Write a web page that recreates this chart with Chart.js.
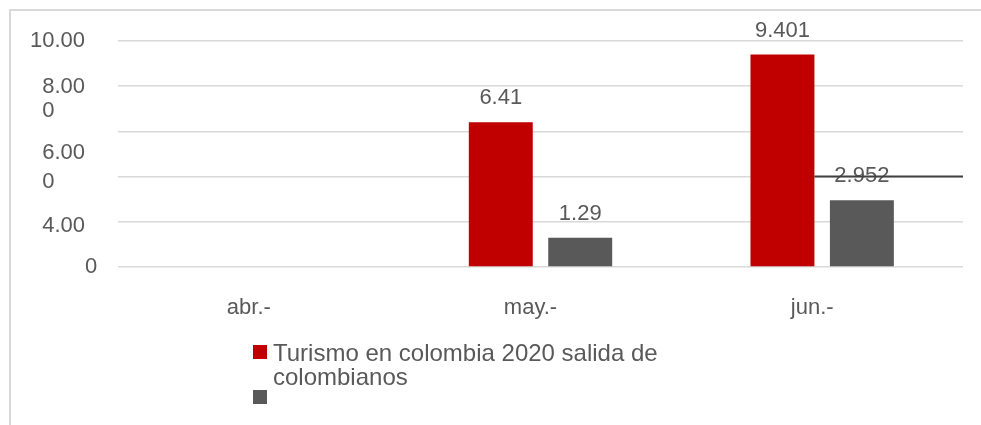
<!DOCTYPE html>
<html>
<head>
<meta charset="utf-8">
<script src="https://cdn.jsdelivr.net/npm/chart.js@4.4.1/dist/chart.umd.min.js"></script>
<style>
  html, body { margin: 0; padding: 0; background: #fff; }
  body { width: 981px; height: 425px; position: relative; overflow: hidden; font-family: "Liberation Sans", Arial, sans-serif; }
  #frame { position: absolute; left: 9px; top: 9px; right: -10px; bottom: -10px; border-top: 2px solid #d9d9d9; border-left: 2px solid #d9d9d9; }
  #wrap { position: absolute; left: 0; top: 0; width: 981px; height: 425px; }
  #legend { position: absolute; left: 253px; top: 341px; color: #595959; font-size: 24px; line-height: 24px; }
  .item { display: flex; align-items: flex-start; }
  .box { width: 14px; height: 14px; margin-top: 4px; margin-right: 6px; flex: none; }
  .item.empty .box { margin-top: 1px; }
  .txt { max-width: 400px; }
</style>
</head>
<body>
<div id="frame"></div>
<div id="wrap"><canvas id="chart"></canvas></div>
<div id="legend"></div>
<script>
// datos
const months = ['abr.-', 'may.-', 'jun.-'];
const seriesNames = ['Turismo en colombia 2020 salida de colombianos', ''];
const redValues = [null, 6.41, 9.401];
const grayValues = [null, 1.29, 2.952];
const redLabels = ['', '6.41', '9.401'];
const grayLabels = ['', '1.29', '2.952'];
const colors = ['#c00000', '#595959'];

// etiquetas del eje y tal como aparecen (valor donde cae cada texto)
const yTickValues = [10, 7.97, 6.91, 5.04, 3.76, 1.83, 0];
const yTickText = ['10.00', '  8.00', '  0', '  6.00', '  0', '  4.00', '         0'];
const strayLineValue = 4;

const textColor = '#595959';
Chart.defaults.font.family = '"Liberation Sans", Arial, sans-serif';
Chart.defaults.color = textColor;

const barLabels = {
  id: 'barLabels',
  afterDatasetsDraw(chart) {
    const ctx = chart.ctx;
    const texts = [redLabels, grayLabels];
    ctx.save();
    ctx.font = '22px "Liberation Sans", Arial, sans-serif';
    ctx.fillStyle = textColor;
    ctx.textAlign = 'center';
    ctx.textBaseline = 'middle';
    chart.data.datasets.forEach((ds, di) => {
      chart.getDatasetMeta(di).data.forEach((bar, i) => {
        const t = texts[di][i];
        if (!t) return;
        ctx.fillText(t, bar.x, bar.y - 24);
      });
    });
    // linea suelta sobre la etiqueta de jun.
    const y = chart.scales.y.getPixelForValue(strayLineValue);
    const bar = chart.getDatasetMeta(0).data[2];
    ctx.strokeStyle = '#404040';
    ctx.lineWidth = 2;
    ctx.beginPath();
    ctx.moveTo(bar.x + bar.width / 2, y);
    ctx.lineTo(chart.chartArea.right, y);
    ctx.stroke();
    ctx.restore();
  }
};

const chart = new Chart(document.getElementById('chart'), {
  type: 'bar',
  data: {
    labels: months,
    datasets: [
      { label: seriesNames[0], data: redValues, backgroundColor: colors[0], yAxisID: 'y' },
      { label: seriesNames[1], data: grayValues, backgroundColor: colors[1], yAxisID: 'y' }
    ]
  },
  options: {
    responsive: true,
    maintainAspectRatio: false,
    animation: false,
    categoryPercentage: 0.564,
    barPercentage: 0.805,
    layout: { padding: { left: 30, right: 18, top: 41, bottom: 0 } },
    plugins: { legend: { display: false }, tooltip: { enabled: false } },
    scales: {
      x: {
        grid: { display: false },
        border: { display: false },
        ticks: { font: { size: 22 }, color: textColor, padding: 20, labelOffset: -10 },
        afterFit(scale) { scale.height = 158; }
      },
      y: {
        type: 'linear',
        position: 'left',
        weight: 0,
        min: 0,
        max: 10,
        ticks: { stepSize: 2, display: false },
        grid: { color: '#d9d9d9', lineWidth: 1.5, drawTicks: false },
        border: { display: false },
        afterFit(scale) { scale.width = 0; }
      },
      yl: {
        type: 'linear',
        position: 'left',
        weight: 1,
        min: 0,
        max: 10,
        grid: { display: false, drawTicks: false },
        border: { display: false },
        afterBuildTicks(scale) { scale.ticks = yTickValues.map(v => ({ value: v })); },
        ticks: {
          autoSkip: false,
          crossAlign: 'far',
          font: { size: 22 },
          color: textColor,
          callback: (v, i) => yTickText[i]
        },
        afterFit(scale) { scale.width = 88; }
      }
    }
  },
  plugins: [barLabels]
});

// leyenda
const legend = document.getElementById('legend');
chart.data.datasets.forEach(ds => {
  const item = document.createElement('div');
  item.className = 'item' + (ds.label ? '' : ' empty');
  const box = document.createElement('span');
  box.className = 'box';
  box.style.background = ds.backgroundColor;
  const txt = document.createElement('span');
  txt.className = 'txt';
  txt.textContent = ds.label;
  item.appendChild(box);
  item.appendChild(txt);
  legend.appendChild(item);
});
</script>
</body>
</html>
